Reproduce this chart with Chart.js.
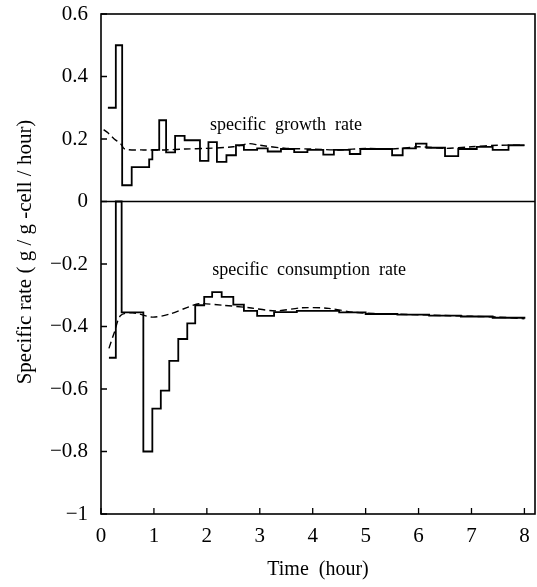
<!DOCTYPE html>
<html>
<head>
<meta charset="utf-8">
<script src="https://cdn.jsdelivr.net/npm/chart.js@4.4.0/dist/chart.umd.min.js"></script>
<style>
  html, body { margin: 0; padding: 0; background: #fff; }
</style>
</head>
<body>
<canvas id="chart" width="537" height="587"></canvas>
<script>
// specific growth rate, measured (solid, stepped)
const growthTime = [0.13, 0.28, 0.40, 0.58, 0.91, 0.97, 1.10, 1.23, 1.40, 1.58, 1.87, 2.03, 2.19, 2.37, 2.55, 2.70, 2.95, 3.15, 3.40, 3.65, 3.90, 4.20, 4.40, 4.70, 4.90, 5.50, 5.70, 5.95, 6.15, 6.50, 6.75, 7.10, 7.40, 7.70, 8.00]
const growthRate = [0.30, 0.50, 0.052, 0.11, 0.135, 0.165, 0.26, 0.157, 0.21, 0.196, 0.13, 0.19, 0.127, 0.148, 0.18, 0.165, 0.17, 0.16, 0.168, 0.158, 0.165, 0.15, 0.165, 0.152, 0.168, 0.148, 0.17, 0.185, 0.172, 0.145, 0.168, 0.175, 0.165, 0.18, 0.18]

// specific growth rate, estimated (dashed)
const growthEstTime = [0.05, 0.13, 0.25, 0.37, 0.45, 0.8, 1.2, 1.6, 2.0, 2.5, 2.8, 3.0, 3.5, 4.0, 4.5, 5.0, 5.5, 6.0, 6.5, 7.0, 7.5, 8.0]
const growthEstRate = [0.23, 0.22, 0.20, 0.185, 0.168, 0.165, 0.165, 0.168, 0.17, 0.175, 0.185, 0.18, 0.17, 0.168, 0.165, 0.17, 0.168, 0.175, 0.17, 0.175, 0.18, 0.18]

// specific consumption rate, measured (solid, stepped)
const consTime = [0.15, 0.28, 0.39, 0.80, 0.97, 1.13, 1.29, 1.46, 1.63, 1.78, 1.95, 2.10, 2.28, 2.50, 2.70, 2.95, 3.27, 3.70, 4.50, 5.00, 5.60, 6.20, 6.80, 7.40, 8.00]
const consRate = [-0.50, 0.0, -0.355, -0.80, -0.663, -0.605, -0.51, -0.44, -0.39, -0.332, -0.305, -0.29, -0.305, -0.33, -0.35, -0.366, -0.354, -0.35, -0.355, -0.36, -0.362, -0.365, -0.368, -0.372, -0.375]

// specific consumption rate, estimated (dashed)
const consEstTime = [0.15, 0.25, 0.37, 0.6, 0.97, 1.3, 1.66, 1.85, 2.3, 2.8, 3.3, 3.8, 4.3, 4.8, 5.5, 6.5, 7.5, 8.0]
const consEstRate = [-0.47, -0.42, -0.365, -0.356, -0.37, -0.36, -0.337, -0.327, -0.332, -0.34, -0.35, -0.34, -0.342, -0.355, -0.36, -0.365, -0.37, -0.375]

const xTicks = [0, 1, 2, 3, 4, 5, 6, 7, 8]
const yTicks = [0.6, 0.4, 0.2, 0, -0.2, -0.4, -0.6, -0.8, -1]

const curveLabels = [
  { text: 'specific  growth  rate', x: 2.06, y: 0.23 },
  { text: 'specific  consumption  rate', x: 2.1, y: -0.234 }
]
const yTitle = 'Specific rate ( g / g -cell / hour)'

const serif = '"Liberation Serif", "DejaVu Serif", serif'

function points(xs, ys) {
  return xs.map((x, i) => ({ x: x, y: ys[i] }))
}

function fmt(v) {
  const s = String(Math.round(v * 10) / 10)
  return s.replace('-', '\u2212')
}

const framePlugin = {
  id: 'frame',
  afterDatasetsDraw(chart) {
    const { ctx, chartArea: a, scales: { x, y } } = chart
    ctx.save()
    ctx.strokeStyle = '#000'
    ctx.lineWidth = 1.6
    ctx.strokeRect(a.left, a.top, a.right - a.left, a.bottom - a.top)

    // zero line
    const y0 = y.getPixelForValue(0)
    ctx.beginPath()
    ctx.moveTo(a.left, y0)
    ctx.lineTo(a.right, y0)
    ctx.stroke()

    // inward ticks
    ctx.lineWidth = 1.3
    ctx.beginPath()
    yTicks.forEach(v => {
      const py = y.getPixelForValue(v)
      ctx.moveTo(a.left, py)
      ctx.lineTo(a.left + 6, py)
    })
    xTicks.forEach(v => {
      const px = x.getPixelForValue(v)
      ctx.moveTo(px, a.bottom)
      ctx.lineTo(px, a.bottom - 6)
    })
    ctx.stroke()

    // curve names
    ctx.fillStyle = '#000'
    ctx.font = '18px ' + serif
    ctx.textAlign = 'left'
    ctx.textBaseline = 'alphabetic'
    curveLabels.forEach(l => {
      ctx.fillText(l.text, x.getPixelForValue(l.x), y.getPixelForValue(l.y))
    })

    // y axis title, rotated
    ctx.translate(25, 252)
    ctx.rotate(-Math.PI / 2)
    ctx.font = '21px ' + serif
    ctx.textAlign = 'center'
    ctx.textBaseline = 'middle'
    ctx.fillText(yTitle, 0, 0)
    ctx.restore()
  }
}

const solid = { borderColor: '#000', borderWidth: 1.8, pointRadius: 0, fill: false, stepped: 'before' }
const dashed = { borderColor: '#000', borderWidth: 1.4, pointRadius: 0, fill: false, borderDash: [7, 4], tension: 0.3 }

new Chart(document.getElementById('chart'), {
  type: 'line',
  data: {
    datasets: [
      Object.assign({ data: points(growthTime, growthRate) }, solid),
      Object.assign({ data: points(growthEstTime, growthEstRate) }, dashed),
      Object.assign({ data: points(consTime, consRate) }, solid),
      Object.assign({ data: points(consEstTime, consEstRate) }, dashed)
    ]
  },
  options: {
    responsive: false,
    animation: false,
    layout: { padding: { top: 14, right: 2, left: 0, bottom: 0 } },
    plugins: { legend: { display: false }, tooltip: { enabled: false } },
    scales: {
      x: {
        type: 'linear',
        min: 0,
        max: 8.2,
        border: { display: false },
        grid: { display: false, drawTicks: false },
        afterBuildTicks(scale) {
          scale.ticks = xTicks.map(v => ({ value: v }))
        },
        afterFit(scale) {
          scale.height = 73
          scale.paddingLeft = 0
          scale.paddingRight = 0
        },
        ticks: {
          padding: 10,
          color: '#000',
          font: { family: serif, size: 21 },
          callback: v => fmt(v)
        },
        title: {
          display: true,
          text: 'Time  (hour)',
          color: '#000',
          font: { family: serif, size: 20, lineHeight: 1.2 },
          padding: { top: 0, bottom: 5 }
        }
      },
      y: {
        type: 'linear',
        min: -1,
        max: 0.6,
        border: { display: false },
        grid: { display: false, drawTicks: false },
        afterBuildTicks(scale) {
          scale.ticks = yTicks.map(v => ({ value: v }))
        },
        afterFit(scale) {
          scale.width = 101
          scale.paddingTop = 0
          scale.paddingBottom = 0
        },
        ticks: {
          padding: 13,
          color: '#000',
          font: { family: serif, size: 21 },
          callback: v => fmt(v)
        }
      }
    }
  },
  plugins: [framePlugin]
})
</script>
</body>
</html>
